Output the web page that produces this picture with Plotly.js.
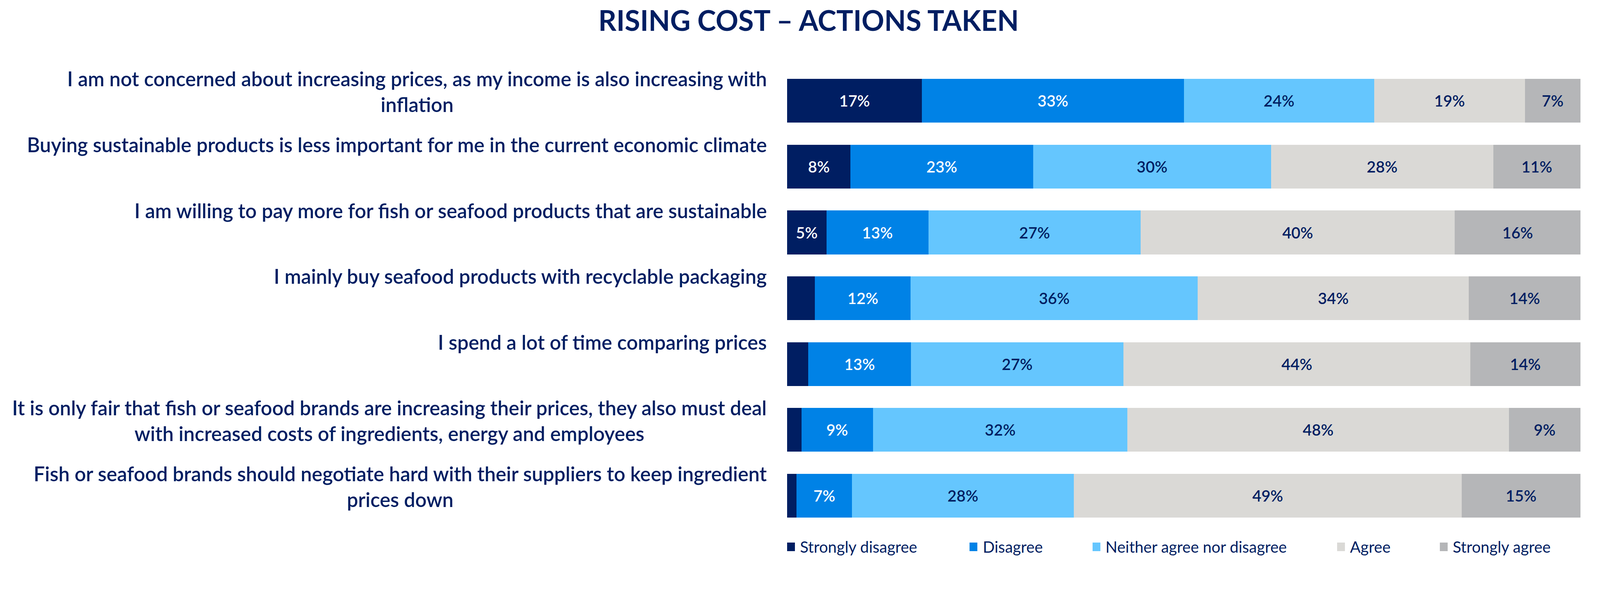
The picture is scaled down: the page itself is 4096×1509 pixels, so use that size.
<!DOCTYPE html>
<html>
<head>
<meta charset="utf-8">
<script src="https://cdn.plot.ly/plotly-3.0.1.min.js"></script>
<style>
  html, body { margin: 0; padding: 0; background: #ffffff; }
  #chart { width: 4096px; height: 1509px; }
</style>
</head>
<body>
<div id="chart"></div>
<script>
// ---------- DATA ----------
const categories = [
  "I am not concerned about increasing prices, as my income is also increasing with<br>inflation",
  "Buying sustainable products is less important for me in the current economic climate",
  "I am willing to pay more for fish or seafood products that are sustainable",
  "I mainly buy seafood products with recyclable packaging",
  "I spend a lot of time comparing prices",
  "It is only fair that fish or seafood brands are increasing their prices, they also must deal<br>with increased costs of ingredients, energy and employees",
  "Fish or seafood brands should negotiate hard with their suppliers to keep ingredient<br>prices down"
];
const seriesNames = ["Strongly disagree", "Disagree", "Neither agree nor disagree", "Agree", "Strongly agree"];
const stronglyDisagree = [17, 8, 5, 3.5, 2.7, 1.8, 1.2];
const disagree         = [33, 23, 13, 12, 13, 9, 7];
const neither          = [24, 30, 27, 36, 27, 32, 28];
const agree            = [19, 28, 40, 34, 44, 48, 49];
const stronglyAgree    = [7, 11, 16, 14, 14, 9, 15];
const titleText = "RISING COST \u2013 ACTIONS TAKEN";

// ---------- STYLE ----------
const NAVY = "#001E62";
const colors = ["#001E62", "#0082E6", "#65C6FE", "#DAD9D6", "#B5B6B8"];
const textColors = ["#FFFFFF", "#FFFFFF", NAVY, NAVY, NAVY];
const FONT = "Lato, 'Noto Sans', sans-serif";

const W = 4096, H = 1509;
const L = 2015, R = 50, T = 174, B = 150;
const PW = W - L - R, PH = H - T - B;
const px2x = p => (p - L) / PW;
const py2y = p => (H - B - p) / PH;

const allSeries = [stronglyDisagree, disagree, neither, agree, stronglyAgree];

const traces = allSeries.map((vals, i) => ({
  type: "bar",
  orientation: "h",
  name: seriesNames[i],
  x: vals,
  y: categories,
  marker: { color: colors[i], line: { width: 0 } },
  text: vals.map(v => v >= 5 ? Math.round(v) + "%" : ""),
  textposition: "inside",
  insidetextanchor: "middle",
  textangle: 0,
  constraintext: "none",
  textfont: { family: FONT, size: 40, color: textColors[i], weight: 600 },
  hoverinfo: "name+x",
  showlegend: false
}));

// category labels
const annotations = categories.map(c => ({
  xref: "x", yref: "y",
  x: 0, y: c,
  xanchor: "right", yanchor: "top",
  xshift: -50, yshift: 89,
  align: "center",
  showarrow: false,
  text: c,
  font: { family: FONT, size: 51, color: NAVY, weight: 600 }
}));

// legend (manual)
const legSquareX = [2015, 2482, 2797, 3423, 3686];
const legTextX   = [2046, 2514, 2828, 3454, 3717];
const shapes = [];
seriesNames.forEach((n, i) => {
  shapes.push({
    type: "rect", xref: "paper", yref: "paper",
    x0: px2x(legSquareX[i]), x1: px2x(legSquareX[i] + 20),
    y0: py2y(1412), y1: py2y(1390),
    fillcolor: colors[i], line: { width: 0 }
  });
  annotations.push({
    xref: "paper", yref: "paper",
    x: px2x(legTextX[i]), y: py2y(1401),
    xanchor: "left", yanchor: "middle",
    showarrow: false, text: n,
    font: { family: FONT, size: 40, color: NAVY }
  });
});

const layout = {
  width: W, height: H,
  margin: { l: L, r: R, t: T, b: B, pad: 0 },
  paper_bgcolor: "#ffffff",
  plot_bgcolor: "#ffffff",
  barmode: "stack",
  barnorm: "percent",
  bargap: 0.335,
  title: {
    text: "<b>" + titleText + "</b>",
    x: 2070 / W, xanchor: "center",
    xref: "container", yref: "container",
    y: 1 - 54 / H, yanchor: "middle",
    font: { family: FONT, size: 72, color: NAVY }
  },
  xaxis: {
    range: [0, 100], showticklabels: false, showgrid: false,
    zeroline: false, showline: false, ticks: "", fixedrange: true
  },
  yaxis: {
    autorange: "reversed", type: "category",
    showticklabels: false, showgrid: false, zeroline: false,
    showline: false, ticks: "", fixedrange: true
  },
  annotations: annotations,
  shapes: shapes,
  showlegend: false
};

Plotly.newPlot("chart", traces, layout, { displayModeBar: false, staticPlot: true });
</script>
</body>
</html>
